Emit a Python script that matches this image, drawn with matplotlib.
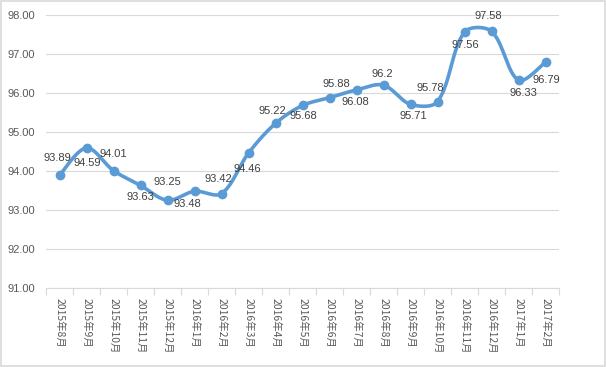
import numpy as np
import matplotlib.pyplot as plt
from matplotlib.patches import Rectangle


months = ['2015年8月', '2015年9月', '2015年10月', '2015年11月', '2015年12月',
          '2016年1月', '2016年2月', '2016年3月', '2016年4月', '2016年5月',
          '2016年6月', '2016年7月', '2016年8月', '2016年9月', '2016年10月',
          '2016年11月', '2016年12月', '2017年1月', '2017年2月']
values = [93.89, 94.59, 94.01, 93.63, 93.25, 93.48, 93.42, 94.46, 95.22, 95.68,
          95.88, 96.08, 96.2, 95.71, 95.78, 97.56, 97.58, 96.33, 96.79]
value_labels = ['93.89', '94.59', '94.01', '93.63', '93.25', '93.48', '93.42', '94.46',
                '95.22', '95.68', '95.88', '96.08', '96.2', '95.71', '95.78', '97.56',
                '97.58', '96.33', '96.79']
yticks = [91, 92, 93, 94, 95, 96, 97, 98]

# label offsets in pixels (dx, dy down positive), like excel's placement
label_offsets = [(-2, -17), (1, 15), (0, -17), (0, 12), (0, -18), (-7, 13), (-3, -15),
                 (-1, 16), (-3, -12), (1, 11), (7, -14), (-1, 12), (-1, -11), (3, 12),
                 (-7, -14), (1, 13), (-3, -15), (5, 13), (1, 18)]

LINE = '#5B9BD5'
GRID = '#D9D9D9'
TXT = '#595959'


def smooth(px, py, n=40):
    # excel-like smoothing: bezier, tangent scaled by neighbouring segment lengths
    P = np.column_stack([px, py])
    m = len(P)
    d = np.hypot(*(P[1:] - P[:-1]).T)
    tang = np.zeros_like(P)
    for i in range(m):
        a = P[max(i - 1, 0)]
        b = P[min(i + 1, m - 1)]
        tang[i] = b - a
    t = np.linspace(0, 1, n)[:, None]
    out = []
    for i in range(m - 1):
        dl = d[i - 1] if i > 0 else d[i]
        dr = d[i + 1] if i + 1 < m - 1 else d[i]
        c1 = P[i] + tang[i] * d[i] / (dl + d[i]) / 3
        c2 = P[i + 1] - tang[i + 1] * d[i] / (d[i] + dr) / 3
        b = (1 - t) ** 3 * P[i] + 3 * (1 - t) ** 2 * t * c1 + 3 * (1 - t) * t ** 2 * c2 + t ** 3 * P[i + 1]
        out.append(b)
    out = np.vstack(out)
    return out[:, 0], out[:, 1]


fig = plt.figure(figsize=(6.06, 3.67), dpi=100)
ax = fig.add_axes([46 / 606, 1 - 288 / 367, 513 / 606, 273 / 367])

x = np.arange(len(values))
ax.set_xlim(-0.5, len(values) - 0.5)
ax.set_ylim(91, 98)

# smooth in pixel space, then back to data
pix = ax.transData.transform(np.column_stack([x, values]))
sx, sy = smooth(pix[:, 0], pix[:, 1])
curve = ax.transData.inverted().transform(np.column_stack([sx, sy]))
ax.plot(curve[:, 0], curve[:, 1], color=LINE, linewidth=2.6,
        solid_capstyle='round', zorder=3)
ax.plot(x, values, 'o', color=LINE, markersize=6, zorder=4)

for i, v in enumerate(values):
    dx, dy = label_offsets[i]
    ax.annotate(value_labels[i], xy=(i, v), xytext=(dx * 0.72, -dy * 0.72),
                textcoords='offset points', ha='center', va='center',
                fontsize=8, color='#404040', family='Liberation Sans', zorder=5)

ax.set_yticks(yticks)
ax.set_yticklabels(['%.2f' % t for t in yticks], family='Liberation Sans',
                   fontsize=8, color=TXT)
ax.yaxis.grid(True, color=GRID, linewidth=0.8)
ax.set_axisbelow(True)

ax.set_xticks(x)
ax.set_xticklabels(months, rotation=-90, va='top', ha='center',
                   family=['Noto Sans CJK SC', 'DejaVu Sans'], fontsize=7.5, color=TXT)
ax.set_xticks(np.arange(-0.5, len(values)), minor=True)
ax.tick_params(axis='x', which='major', length=0, pad=7)
ax.tick_params(axis='x', which='minor', length=5, color=GRID, width=0.8)
ax.tick_params(axis='y', length=0, pad=8)

for s in ['top', 'right', 'left']:
    ax.spines[s].set_visible(False)
ax.spines['bottom'].set_color(GRID)
ax.spines['bottom'].set_linewidth(0.8)

fig.patches.append(Rectangle((0.001, 0.002), 0.997, 0.995, transform=fig.transFigure,
                             fill=False, edgecolor=GRID, linewidth=1.2))

fig.savefig('out.png', dpi=100)
